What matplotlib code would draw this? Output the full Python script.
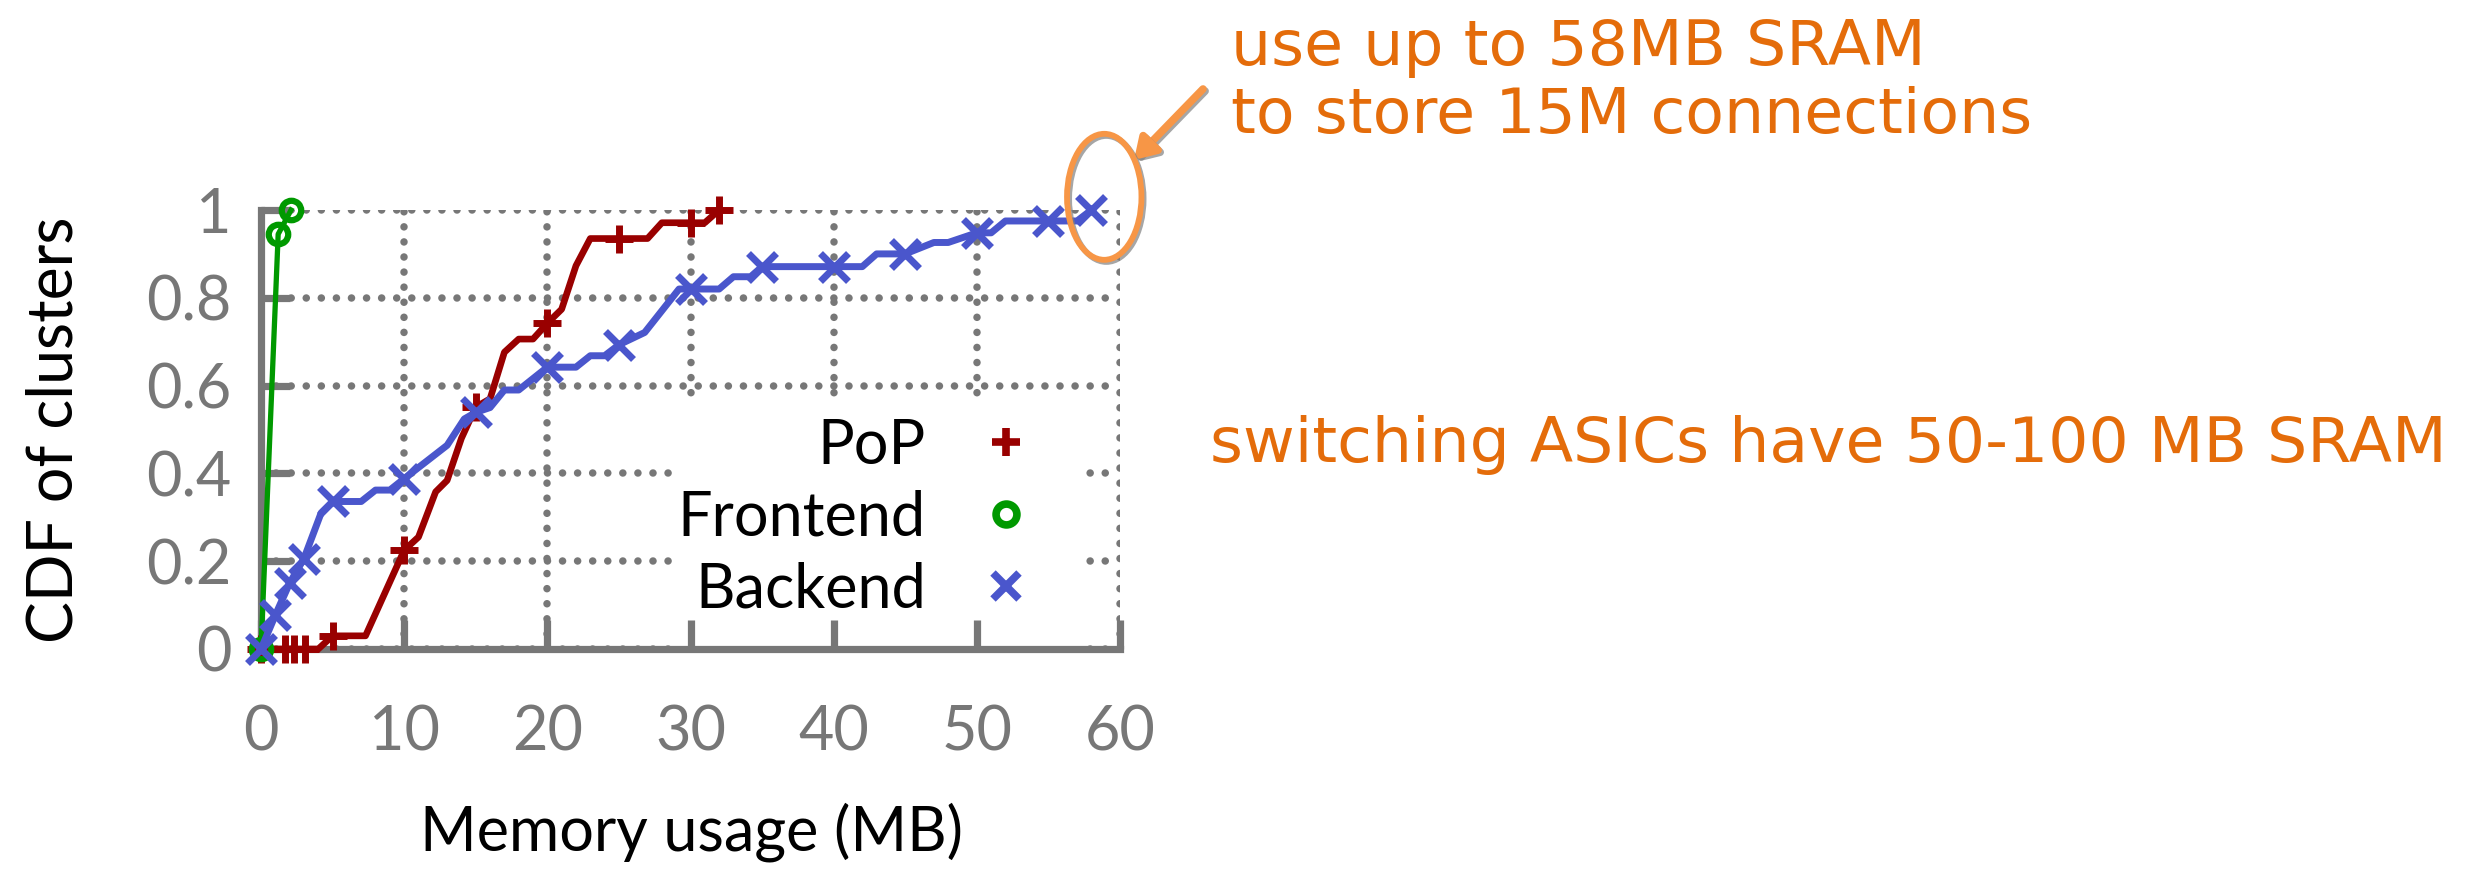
import matplotlib
matplotlib.use("Agg")
import matplotlib.pyplot as plt
from matplotlib.lines import Line2D
from matplotlib.patches import Rectangle, Ellipse
import matplotlib.patheffects as pe

# data (memory usage in MB vs. CDF)
pop_x = [0, 1.7, 2.3, 3.1, 4, 5, 7.3, 10, 11, 12.2, 13, 14, 15, 16, 17, 18, 19, 20,
         21, 22, 23, 25, 27, 28, 30, 31, 32]
pop_y = [0, 0, 0, 0, 0, .03, .03, .225, .255, .358, .384, .48, .551, .57, .676, .706,
         .706, .742, .774, .873, .935, .935, .935, .971, .971, .971, 1.0]
pop_marks = [0, 1, 2, 3, 5, 7, 12, 17, 21, 24, 26]

front_x = [0, 1.2, 2.1]
front_y = [0, 0.945, 1.0]

back_x = [0, 1, 2, 3, 4.2, 5, 7, 8, 9, 10, 13, 14.2, 15, 16, 17, 18, 20, 22, 23, 24,
          25, 26.8, 29.2, 30, 32, 33, 34.2, 35, 40, 42, 43, 45, 47, 48, 50, 51, 52, 55,
          57, 58]
back_y = [0, .077, .15, .206, .31, .336, .336, .362, .362, .388, .464, .524, .539, .55,
          .59, .59, .642, .642, .668, .668, .693, .721, .82, .82, .82, .848, .848, .871,
          .871, .871, .90, .90, .926, .926, .948, .948, .975, .975, .975, 1.0]
back_marks = [0, 1, 2, 3, 5, 9, 12, 16, 20, 23, 27, 28, 31, 34, 37, 39]

labels = ["PoP", "Frontend", "Backend"]
xticks = [0, 10, 20, 30, 40, 50, 60]
yticks = [0, 0.2, 0.4, 0.6, 0.8, 1.0]
yticklabels = ["0", "0.2", "0.4", "0.6", "0.8", "1"]

c_pop = "#990000"
c_front = "#009900"
c_back = "#4a56cc"
gray = "#777777"
orange = "#E46C0A"
light_orange = "#F79646"
gill = "Lato"

plt.rcParams["lines.scale_dashes"] = True

fig = plt.figure(figsize=(24.81, 8.74), dpi=100)
pos = [261 / 2481, 1 - 649 / 874, (1120 - 261) / 2481, (649 - 210) / 874]

# bottom axes: dotted grid + white box behind the key
ax = fig.add_axes(pos)
ax.set_xlim(0, 60)
ax.set_ylim(0, 1)
ax.set_xticks(xticks)
ax.set_yticks(yticks)
ax.set_axisbelow(True)
ax.grid(True)
for gl in ax.get_xgridlines() + ax.get_ygridlines():
    gl.set_color(gray)
    gl.set_linewidth(5.4)
    gl.set_linestyle((0, (0.01, 2.0)))
    gl.set_dash_capstyle("round")
ax.tick_params(length=0, labelbottom=False, labelleft=False)
for s in ax.spines.values():
    s.set_visible(False)
ax.add_patch(Rectangle((0.483, 0.0), 0.475, 0.565, transform=ax.transAxes,
                       facecolor="white", edgecolor="none", zorder=1))

# top axes: spines, ticks, data, key
ax2 = fig.add_axes(pos, facecolor="none")
ax2.set_xlim(0, 60)
ax2.set_ylim(0, 1)
ax2.set_xticks(xticks)
ax2.set_yticks(yticks)
ax2.set_yticklabels(yticklabels)
for side in ["top", "right"]:
    ax2.spines[side].set_visible(False)
for side in ["left", "bottom"]:
    ax2.spines[side].set_color(gray)
    ax2.spines[side].set_linewidth(5.2)
ax2.tick_params(direction="in", length=21, width=5.2, color=gray, labelcolor=gray,
                labelsize=44)
ax2.tick_params(axis="x", pad=40)
ax2.tick_params(axis="y", pad=21)
for t in ax2.get_xticklabels() + ax2.get_yticklabels():
    t.set_family(gill)

ax2.plot(pop_x, pop_y, color=c_pop, lw=4.8, marker="+", ms=20, mew=5,
         markevery=pop_marks, clip_on=False, zorder=3)
ax2.plot(front_x, front_y, color=c_front, lw=3.8, marker="o", ms=14, mew=4.5,
         mfc="none", clip_on=False, zorder=3)
ax2.plot(back_x, back_y, color=c_back, lw=5.0, marker="x", ms=20, mew=5,
         markevery=back_marks, clip_on=False, zorder=4)

handles = [
    Line2D([], [], color=c_pop, marker="+", ls="none", ms=20, mew=5.5),
    Line2D([], [], color=c_front, marker="o", ls="none", ms=15, mew=5.5, mfc="none"),
    Line2D([], [], color=c_back, marker="x", ls="none", ms=19, mew=5.5),
]
ax2.legend(handles, labels, markerfirst=False, frameon=False, loc="center right",
           bbox_to_anchor=(1037 / 2481, 1 - 518 / 874),
           bbox_transform=fig.transFigure, borderpad=0, borderaxespad=0,
           handlelength=1.0, handletextpad=0.82, labelspacing=0.24,
           prop={"family": gill, "size": 44})

ax2.set_ylabel("CDF of clusters", fontsize=45, family=gill, color="black")
ax2.yaxis.set_label_coords(-0.207, 0.5)
ax2.set_xlabel("Memory usage (MB)", fontsize=44, family=gill, color="black", va="top")
ax2.xaxis.set_label_coords(0.5006, -0.35)

# highlight of the 58MB point
ell = Ellipse((58.9, 1.03), 5.2, 0.287, fill=False, edgecolor=light_orange, lw=4.2,
              clip_on=False, zorder=5)
ell.set_path_effects([pe.SimpleLineShadow(offset=(1.5, -1.5), shadow_color="gray",
                                          alpha=0.7), pe.Normal()])
ax2.add_patch(ell)

ax2.annotate("", xy=(1134, 874 - 160), xytext=(1203, 874 - 89),
             xycoords="figure pixels", textcoords="figure pixels",
             arrowprops=dict(arrowstyle="-|>,head_length=1.2,head_width=0.75",
                             color=light_orange, lw=5.5, shrinkA=0, shrinkB=0,
                             path_effects=[pe.SimpleLineShadow(offset=(1.5, -1.5),
                                                               shadow_color="gray",
                                                               alpha=0.7),
                                           pe.Normal()]))

fig.text(1231 / 2481, 1 - 18 / 874, "use up to 58MB SRAM\nto store 15M connections",
         color=orange, fontsize=45.5, va="top", ha="left", linespacing=1.17)
fig.text(1210 / 2481, 1 - 462 / 874, "switching ASICs have 50-100 MB SRAM",
         color=orange, fontsize=45.5, va="baseline", ha="left")

fig.savefig("out.png", dpi=100)
